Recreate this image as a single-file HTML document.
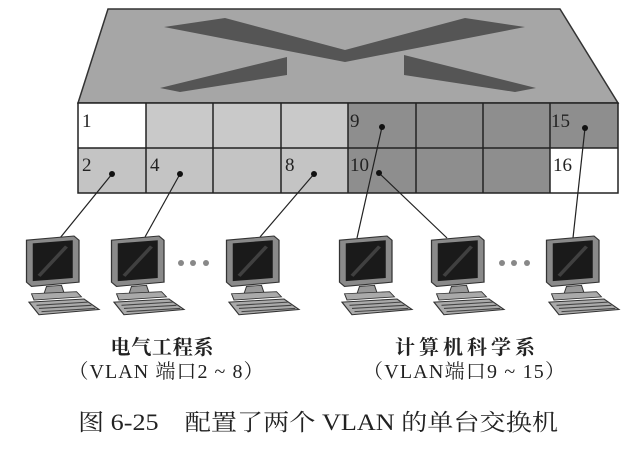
<!DOCTYPE html>
<html><head><meta charset="utf-8"><style>
html,body{margin:0;padding:0;background:#fff;}
svg{display:block;}
text{font-family:"Liberation Serif","Noto Serif CJK SC",serif;fill:#222;}
</style></head><body>
<svg width="640" height="450" viewBox="0 0 640 450">
<defs>
<g id="pc">
  <polygon points="2,4 40,0 44,4 44,44 6,48 2,44" fill="#8a8a8a" stroke="#333" stroke-width="1"/>
  <polygon points="7,7 39,4 39,40 7,43" fill="#1a1a1a"/>
  <line x1="12" y1="38" x2="34" y2="10" stroke="#666" stroke-width="3" opacity="0.5"/>
  <polygon points="18,48 30,47 32,54 16,55" fill="#999" stroke="#333" stroke-width="0.8"/>
  <polygon points="6,55 42,53 46,58 8,61" fill="#aaa" stroke="#333" stroke-width="0.8"/>
  <polygon points="4,63 48,60 60,70 12,75" fill="#aaa" stroke="#333" stroke-width="1"/>
  <line x1="10" y1="66" x2="51" y2="63" stroke="#444" stroke-width="1"/>
  <line x1="12" y1="69" x2="54" y2="66" stroke="#444" stroke-width="1"/>
  <line x1="14" y1="72" x2="57" y2="69" stroke="#444" stroke-width="1"/>
</g>
</defs>
<!-- switch top -->
<polygon points="108,9 560,9 618,103 78,103" fill="#a6a6a6" stroke="#333" stroke-width="1.5"/>
<polygon points="164,27 225,18 345,50 465,18 525,27 345,62" fill="#555"/>
<polygon points="160,88 287,57 287,75 180,92" fill="#555"/>
<polygon points="404,55 536,88 515,92 404,75" fill="#555"/>
<!-- grid -->
<rect x="78" y="103" width="540" height="90" fill="#8c8c8c"/>
<rect x="78" y="103" width="68" height="45" fill="#fff"/>
<rect x="146" y="103" width="202" height="45" fill="#c9c9c9"/>
<rect x="78" y="148" width="270" height="45" fill="#c4c4c4"/>
<rect x="348" y="103" width="270" height="90" fill="#8e8e8e"/>
<rect x="550" y="148" width="68" height="45" fill="#fff"/>
<g stroke="#222" stroke-width="1.5" fill="none">
<rect x="78" y="103" width="540" height="90"/>
<line x1="78" y1="148" x2="618" y2="148"/>
<line x1="146" y1="103" x2="146" y2="193"/>
<line x1="213" y1="103" x2="213" y2="193"/>
<line x1="281" y1="103" x2="281" y2="193"/>
<line x1="348" y1="103" x2="348" y2="193"/>
<line x1="416" y1="103" x2="416" y2="193"/>
<line x1="483" y1="103" x2="483" y2="193"/>
<line x1="550" y1="103" x2="550" y2="193"/>
</g>
<g font-size="19">
<text x="82" y="127">1</text><text x="82" y="171">2</text><text x="150" y="171">4</text>
<text x="285" y="171">8</text><text x="350" y="127">9</text><text x="350" y="171">10</text>
<text x="551" y="127">15</text><text x="553" y="171">16</text>
</g>
<!-- wires -->
<g stroke="#222" stroke-width="1.2">
<line x1="112" y1="174" x2="60" y2="238"/>
<line x1="180" y1="174" x2="145" y2="237"/>
<line x1="314" y1="174" x2="260" y2="237"/>
<line x1="382" y1="127" x2="357" y2="238"/>
<line x1="379" y1="173" x2="447" y2="238"/>
<line x1="585" y1="128" x2="573" y2="238"/>
</g>
<g fill="#111">
<circle cx="112" cy="174" r="3"/><circle cx="180" cy="174" r="3"/><circle cx="314" cy="174" r="3"/>
<circle cx="382" cy="127" r="3"/><circle cx="379" cy="173" r="3"/><circle cx="585" cy="128" r="3"/>
</g>
<!-- computers -->
<use href="#pc" transform="translate(24,236) scale(1.25,1.05)"/>
<use href="#pc" transform="translate(109,236) scale(1.25,1.05)"/>
<use href="#pc" transform="translate(224,236) scale(1.25,1.05)"/>
<use href="#pc" transform="translate(337,236) scale(1.25,1.05)"/>
<use href="#pc" transform="translate(429,236) scale(1.25,1.05)"/>
<use href="#pc" transform="translate(544,236) scale(1.25,1.05)"/>
<g fill="#888">
<circle cx="181" cy="263" r="3"/><circle cx="193" cy="263" r="3"/><circle cx="206" cy="263" r="3"/>
<circle cx="502" cy="263" r="3"/><circle cx="514" cy="263" r="3"/><circle cx="527" cy="263" r="3"/>
</g>
<g font-size="20" text-anchor="middle">
<text x="162" y="354" font-weight="bold" textLength="103">电气工程系</text>
<text x="166" y="378" textLength="195">（VLAN 端口2 ~ 8）</text>
<text x="465" y="354" font-weight="bold" textLength="140">计算机科学系</text>
<text x="464" y="378" textLength="202">（VLAN端口9 ~ 15）</text>
</g>
<text x="78" y="430" font-size="23" textLength="480" lengthAdjust="spacingAndGlyphs">图 6-25　配置了两个 VLAN 的单台交换机</text>
</svg>
</body></html>
